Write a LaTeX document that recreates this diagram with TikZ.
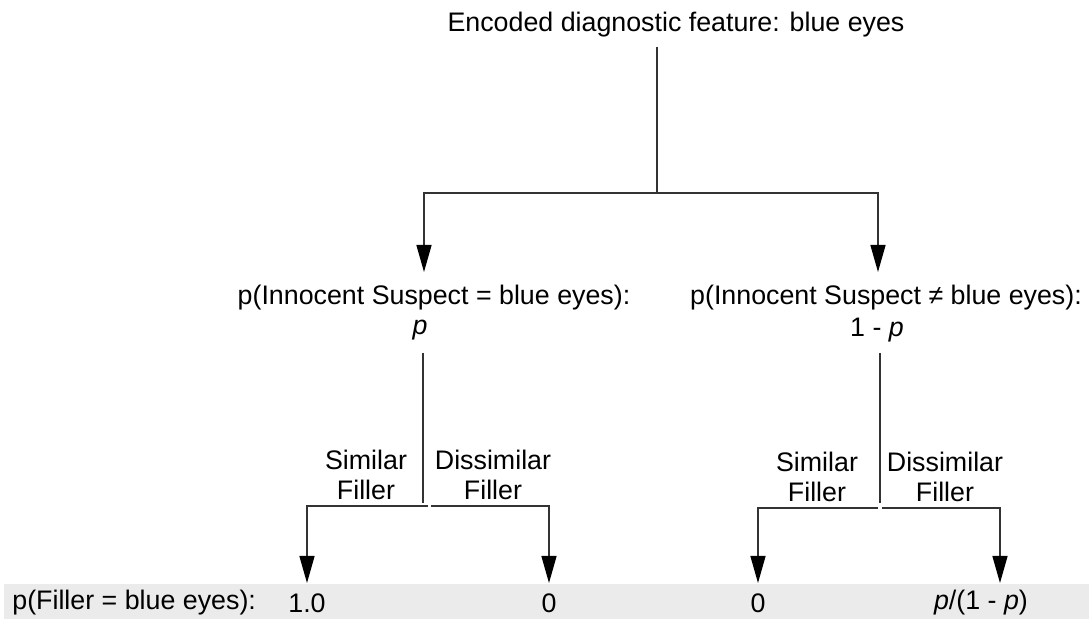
\documentclass[tikz,border=0pt]{standalone}
\usepackage{fontspec}
\setmainfont{Liberation Sans}
\usetikzlibrary{arrows.meta}
\begin{document}
\begin{tikzpicture}[x=0.5pt,y=-0.5pt,
  every node/.style={font=\fontsize{13.4}{15}\selectfont, inner sep=0pt, align=center},
  ln/.style={draw=black!80, line width=0.7pt},
  arr/.style={ln, -{Triangle[width=7.5pt,length=13.5pt,color=black,fill=black]}}]
\useasboundingbox (0,0) rectangle (1089,619);
\fill[black!8] (4,584) rectangle (1089,619);
% texts
\node (title) at (676,25) {Encoded diagnostic feature: blue eyes};
\node (L1) at (434,298) {p(Innocent Suspect = blue eyes):};
\node (L1p) at (420,330) {\itshape p};
\node (R1) at (886,298) {p(Innocent Suspect ≠ blue eyes):};
\node (R1p) at (877,330) {1 - \itshape p};
\node (LS) at (366,475) {Similar\\Filler};
\node (LD) at (493,475) {Dissimilar\\Filler};
\node (RS) at (817,477) {Similar\\Filler};
\node (RD) at (945,477) {Dissimilar\\Filler};
\node[anchor=west] (bl) at (12,603) {p(Filler = blue eyes):};
\node (b1) at (307,603) {1.0};
\node (b2) at (549,603) {0};
\node (b3) at (758,603) {0};
\node (b4) at (981,603) {\itshape p\upshape/(1 - \itshape p\upshape)};
% coordinates
\coordinate (t0) at (657,47);
\coordinate (t1) at (657,193);
\coordinate (la) at (424,272);
\coordinate (ra) at (878,272);
\coordinate (l0) at (423,353);
\coordinate (l1) at (423,503);
\coordinate (lbl) at (428,506);
\coordinate (lbr) at (431,506);
\coordinate (lla) at (307,583);
\coordinate (lra) at (549,583);
\coordinate (r0) at (880,353);
\coordinate (r1) at (880,503);
\coordinate (rbl) at (878,508);
\coordinate (rbr) at (882,508);
\coordinate (rla) at (758,583);
\coordinate (rra) at (1000,583);
% connectors
\draw[ln] (t0) -- (t1);
\draw[arr] (t1) -| (la);
\draw[arr] (t1) -| (ra);
\draw[ln] (l0) -- (l1);
\draw[arr] (lbl) -| (lla);
\draw[arr] (lbr) -| (lra);
\draw[ln] (r0) -- (r1);
\draw[arr] (rbl) -| (rla);
\draw[arr] (rbr) -| (rra);
\end{tikzpicture}
\end{document}
